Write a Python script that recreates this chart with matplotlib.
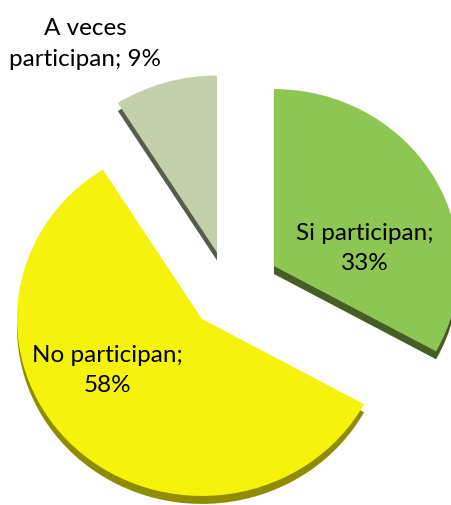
import numpy as np
import matplotlib.pyplot as plt

# datos del grafico
categorias = ['Si participan', 'No participan', 'A veces participan']
porcentajes = [33, 58, 9]
etiquetas = ['Si participan;\n33%', 'No participan;\n58%', 'A veces\nparticipan; 9%']

# estilo
colores = ['#8DC652', '#F5F20C', '#C3D0AB']
colores_lado = ['#465E26', '#8F8C00', '#565E48']
separacion = [0.283, 0.2125, 0.23]
profundidad = 0.045
# posicion de cada etiqueta respecto al vertice de su porcion (angulo, radio)
pos_etiqueta = [(12, 0.50), (209, 0.586), (121, 1.38)]

plt.rcParams['font.family'] = ['Lato', 'DejaVu Sans']

fig = plt.figure(figsize=(4.52, 5.06), dpi=100)
ax = fig.add_axes([0, 0, 1, 1])

# cara lateral (sombra 3D)
ax.pie(porcentajes, colors=colores_lado, explode=separacion, startangle=90,
       counterclock=False, center=(0, -profundidad),
       wedgeprops=dict(linewidth=0))
# cara superior
wedges, _ = ax.pie(porcentajes, colors=colores, explode=separacion, startangle=90,
                   counterclock=False, wedgeprops=dict(linewidth=0))

for w, txt, (ang, r) in zip(wedges, etiquetas, pos_etiqueta):
    cx, cy = w.center
    a = np.deg2rad(ang)
    ax.text(cx + r * np.cos(a), cy + r * np.sin(a), txt, ha='center', va='center',
            multialignment='center', fontsize=17.5, color='black', linespacing=1.55)

ax.set_aspect('auto')
ax.set_xlim(-1.237, 1.206)
ax.set_ylim(-1.206, 1.653)
ax.axis('off')

fig.savefig('out.png', dpi=100)
